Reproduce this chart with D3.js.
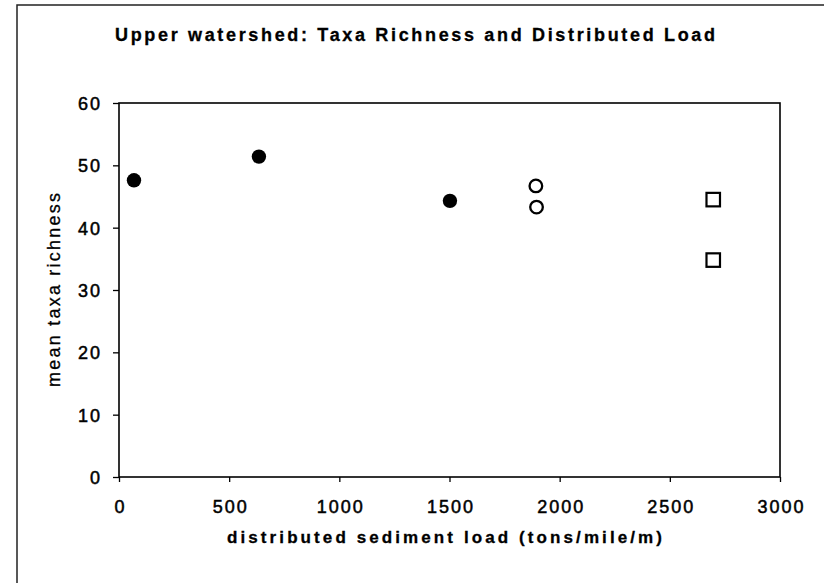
<!DOCTYPE html>
<html>
<head>
<meta charset="utf-8">
<script src="https://cdn.jsdelivr.net/npm/d3@7"></script>
<style>
  html, body { margin: 0; padding: 0; background: #fff; }
  svg { display: block; font-family: "Liberation Sans", Arial, sans-serif; }
</style>
</head>
<body>
<svg id="chart" width="824" height="583"></svg>
<script>
// ---- data ----
const titleText = "Upper watershed: Taxa Richness and Distributed Load";
const xLabel = "distributed sediment load (tons/mile/m)";
const yLabel = "mean taxa richness";
const xTicks = [0, 500, 1000, 1500, 2000, 2500, 3000];
const yTicks = [0, 10, 20, 30, 40, 50, 60];
const filledLoad = [68, 635, 1502];
const filledRich = [47.6, 51.4, 44.3];
const openLoad = [1892, 1895];
const openRich = [46.7, 43.3];
const squareLoad = [2697, 2697];
const squareRich = [44.5, 34.8];

const svg = d3.select("#chart");
const L = 119, R = 780, T = 103, B = 477;
const x = d3.scaleLinear().domain([0, 3000]).range([L, R]);
const y = d3.scaleLinear().domain([0, 60]).range([B, T]);

// outer frame (extends beyond the picture on right/bottom)
svg.append("rect").attr("x", 17).attr("y", 5).attr("width", 900).attr("height", 700)
  .attr("fill", "none").attr("stroke", "#222").attr("stroke-width", 1.5);

// title
svg.append("text").attr("x", 115).attr("y", 40.5)
  .attr("font-size", 18).attr("font-weight", "bold").attr("fill", "#000")
  .attr("stroke", "#000").attr("stroke-width", 0.3)
  .attr("textLength", 600).attr("lengthAdjust", "spacing")
  .text(titleText);

// axes
const gx = svg.append("g").attr("transform", `translate(0,${B})`)
  .call(d3.axisBottom(x).tickValues(xTicks).tickSize(5).tickPadding(0).tickFormat(d3.format("d")));
const gy = svg.append("g").attr("transform", `translate(${L},0)`)
  .call(d3.axisLeft(y).tickValues(yTicks).tickSize(6).tickFormat(d3.format("d")));
[gx, gy].forEach(g => {
  g.select(".domain").remove();
  g.selectAll(".tick line").attr("stroke", "#000").attr("stroke-width", 1.3);
  g.selectAll(".tick text").attr("fill", "#000").attr("font-size", 18)
    .attr("stroke", "#000").attr("stroke-width", 0.5)
    .attr("font-family", "'Liberation Sans', Arial, sans-serif")
    .style("letter-spacing", "2px");
});
gx.selectAll(".tick text").attr("y", 0).attr("dy", 0).attr("transform", "translate(1,36)");
gy.selectAll(".tick text").attr("x", -17).attr("dy", "0.36em");

// plot border
svg.append("rect").attr("x", L).attr("y", T).attr("width", R - L).attr("height", B - T)
  .attr("fill", "none").attr("stroke", "#000").attr("stroke-width", 1.6);

// axis titles
svg.append("text").attr("x", 227).attr("y", 543)
  .attr("font-size", 17).attr("font-weight", "bold").attr("fill", "#000")
  .attr("stroke", "#000").attr("stroke-width", 0.3)
  .attr("textLength", 435).attr("lengthAdjust", "spacing")
  .text(xLabel);
svg.append("text").attr("transform", "translate(60,290) rotate(-90)")
  .attr("text-anchor", "middle")
  .attr("font-size", 18).attr("fill", "#000")
  .attr("stroke", "#000").attr("stroke-width", 0.3)
  .attr("textLength", 194).attr("lengthAdjust", "spacing")
  .text(yLabel);

// markers
svg.append("g").selectAll("circle").data(d3.zip(filledLoad, filledRich)).join("circle")
  .attr("cx", d => x(d[0])).attr("cy", d => y(d[1])).attr("r", 7.2).attr("fill", "#000");
svg.append("g").selectAll("circle").data(d3.zip(openLoad, openRich)).join("circle")
  .attr("cx", d => x(d[0])).attr("cy", d => y(d[1])).attr("r", 6.3)
  .attr("fill", "#fff").attr("stroke", "#000").attr("stroke-width", 2.3);
const s = 13.5;
svg.append("g").selectAll("rect").data(d3.zip(squareLoad, squareRich)).join("rect")
  .attr("x", d => x(d[0]) - s / 2).attr("y", d => y(d[1]) - s / 2)
  .attr("width", s).attr("height", s)
  .attr("fill", "#fff").attr("stroke", "#000").attr("stroke-width", 2.2);
</script>
</body>
</html>
